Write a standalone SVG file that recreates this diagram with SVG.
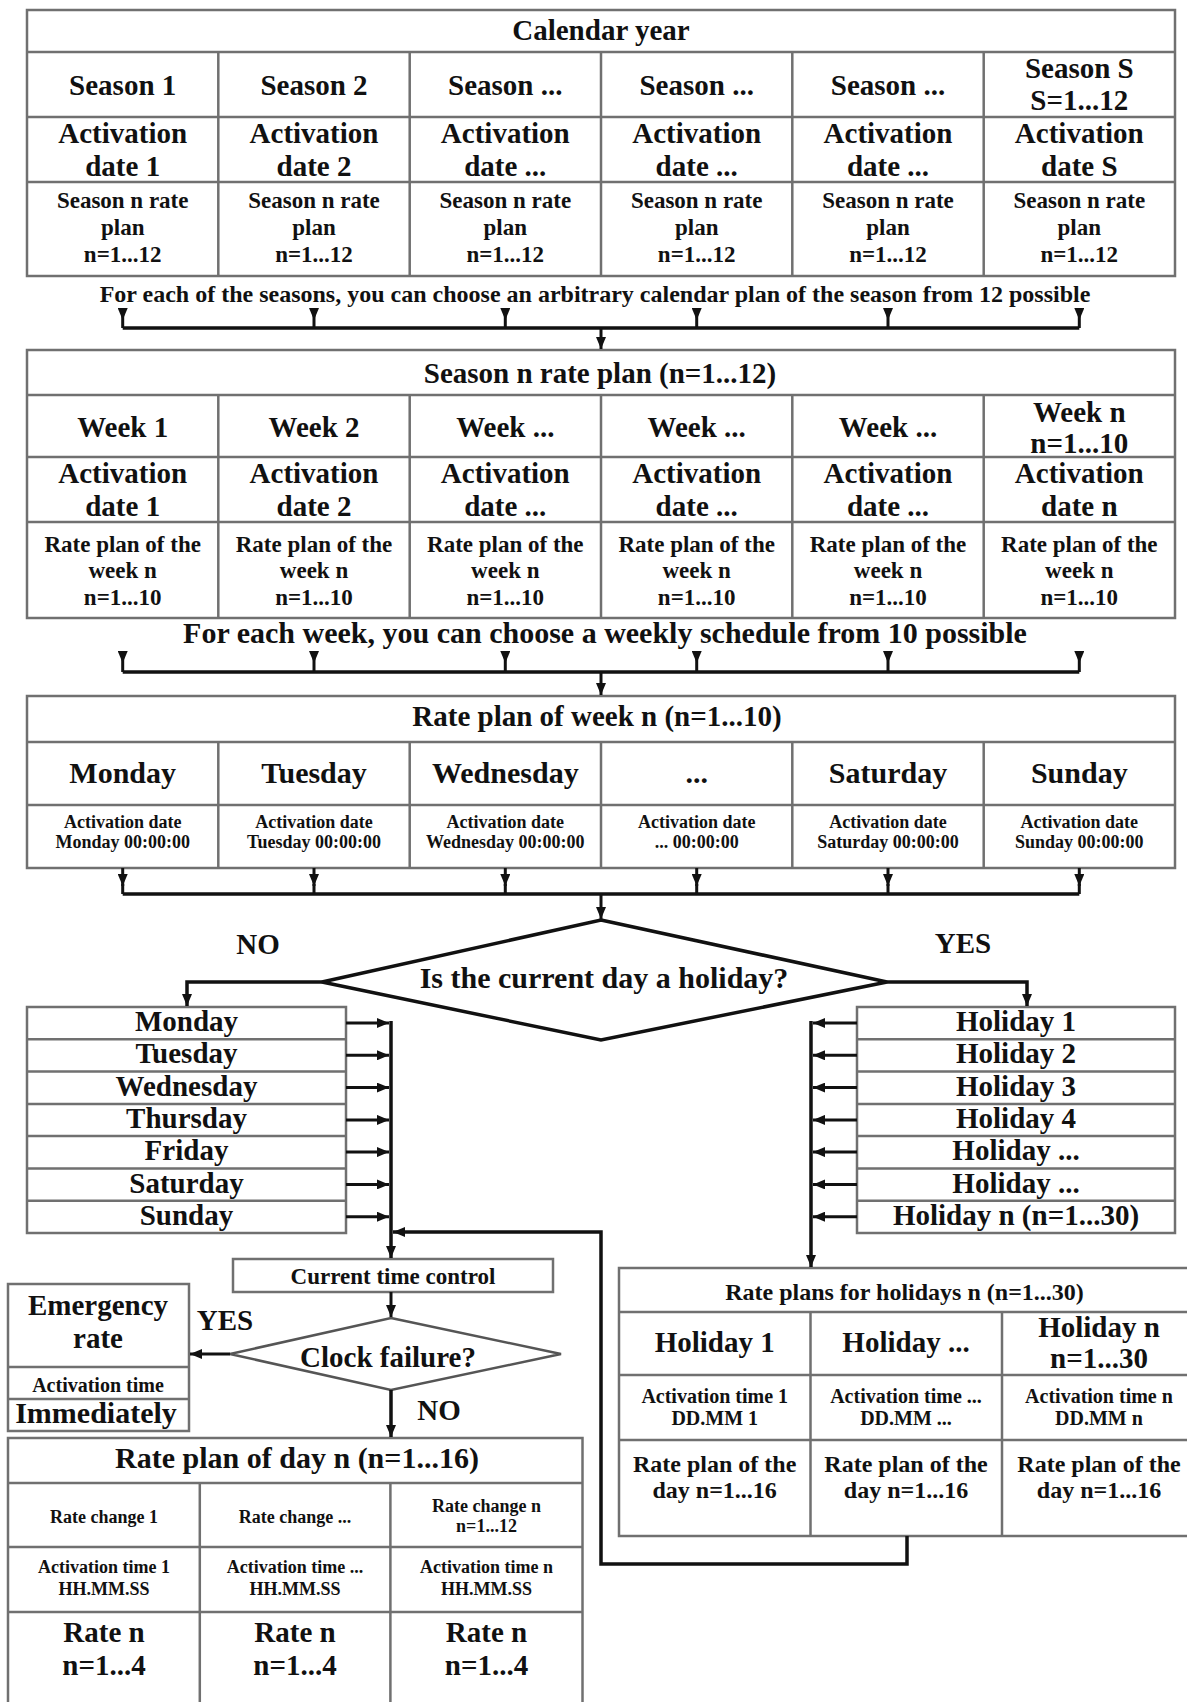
<svg xmlns="http://www.w3.org/2000/svg" width="1187" height="1702" viewBox="0 0 1187 1702">
<defs>
<style>
.box{fill:#fff;stroke:#707070;stroke-width:2.5}
.grid{fill:none;stroke:#707070;stroke-width:2.5}
text{font-family:"Liberation Serif","Times New Roman",serif;font-weight:bold;fill:#111;text-anchor:middle}
.t30{font-size:30px}.t29{font-size:29px}.t24{font-size:24px}.t23{font-size:23px}.t20{font-size:20px}.t18{font-size:18px}
.conn{fill:none;stroke:#111;stroke-width:3.5}
.thin{fill:none;stroke:#111;stroke-width:3}
.dia{fill:#fff;stroke:#111;stroke-width:3.5}
.dia2{fill:#fff;stroke:#555;stroke-width:2.5}
</style>
<marker id="ah" viewBox="0 0 12 10" refX="12" refY="5" markerWidth="12" markerHeight="10" markerUnits="userSpaceOnUse" orient="auto"><path d="M0,0 L12,5 L0,10 z" fill="#111"/></marker>
<marker id="hs" viewBox="0 0 12 10" refX="0" refY="5" markerWidth="12" markerHeight="10" markerUnits="userSpaceOnUse" orient="auto"><path d="M0,0 L12,5 L0,10 z" fill="#111"/></marker>
</defs>
<rect width="1187" height="1702" fill="#fff"/>

<g id="calendar-year">
<rect x="27" y="10" width="1148" height="266" class="box"/>
<path class="grid" d="M27 52H1175M27 117H1175M27 182H1175M218.3 52V276M409.7 52V276M601 52V276M792.3 52V276M983.7 52V276"/>
<text x="601" y="40" class="t29">Calendar year</text>
<g class="t29">
<text x="122.7" y="95">Season 1</text><text x="314" y="95">Season 2</text><text x="505.3" y="95">Season ...</text><text x="696.7" y="95">Season ...</text><text x="888" y="95">Season ...</text>
<text x="1079.3" y="78">Season S</text><text x="1079.3" y="110">S=1...12</text>
<text x="122.7" y="143">Activation</text><text x="122.7" y="176">date 1</text>
<text x="314" y="143">Activation</text><text x="314" y="176">date 2</text>
<text x="505.3" y="143">Activation</text><text x="505.3" y="176">date ...</text>
<text x="696.7" y="143">Activation</text><text x="696.7" y="176">date ...</text>
<text x="888" y="143">Activation</text><text x="888" y="176">date ...</text>
<text x="1079.3" y="143">Activation</text><text x="1079.3" y="176">date S</text>
</g>
<g class="t23">
<text x="122.7" y="208">Season n rate</text><text x="122.7" y="235">plan</text><text x="122.7" y="262">n=1...12</text>
<text x="314" y="208">Season n rate</text><text x="314" y="235">plan</text><text x="314" y="262">n=1...12</text>
<text x="505.3" y="208">Season n rate</text><text x="505.3" y="235">plan</text><text x="505.3" y="262">n=1...12</text>
<text x="696.7" y="208">Season n rate</text><text x="696.7" y="235">plan</text><text x="696.7" y="262">n=1...12</text>
<text x="888" y="208">Season n rate</text><text x="888" y="235">plan</text><text x="888" y="262">n=1...12</text>
<text x="1079.3" y="208">Season n rate</text><text x="1079.3" y="235">plan</text><text x="1079.3" y="262">n=1...12</text>
</g>
</g>
<text id="note-seasons" x="595" y="302" class="t24">For each of the seasons, you can choose an arbitrary calendar plan of the season from 12 possible</text>

<g id="season-rate-plan">
<rect x="27" y="350" width="1148" height="268" class="box"/>
<path class="grid" d="M27 395H1175M27 457H1175M27 522H1175M218.3 395V618M409.7 395V618M601 395V618M792.3 395V618M983.7 395V618"/>
<text x="600" y="383" class="t29">Season n rate plan (n=1...12)</text>
<g class="t29">
<text x="122.7" y="437">Week 1</text><text x="314" y="437">Week 2</text><text x="505.3" y="437">Week ...</text><text x="696.7" y="437">Week ...</text><text x="888" y="437">Week ...</text>
<text x="1079.3" y="422">Week n</text><text x="1079.3" y="453">n=1...10</text>
<text x="122.7" y="483">Activation</text><text x="122.7" y="516">date 1</text>
<text x="314" y="483">Activation</text><text x="314" y="516">date 2</text>
<text x="505.3" y="483">Activation</text><text x="505.3" y="516">date ...</text>
<text x="696.7" y="483">Activation</text><text x="696.7" y="516">date ...</text>
<text x="888" y="483">Activation</text><text x="888" y="516">date ...</text>
<text x="1079.3" y="483">Activation</text><text x="1079.3" y="516">date n</text>
</g>
<g class="t23">
<text x="122.7" y="552">Rate plan of the</text><text x="122.7" y="578">week n</text><text x="122.7" y="605">n=1...10</text>
<text x="314" y="552">Rate plan of the</text><text x="314" y="578">week n</text><text x="314" y="605">n=1...10</text>
<text x="505.3" y="552">Rate plan of the</text><text x="505.3" y="578">week n</text><text x="505.3" y="605">n=1...10</text>
<text x="696.7" y="552">Rate plan of the</text><text x="696.7" y="578">week n</text><text x="696.7" y="605">n=1...10</text>
<text x="888" y="552">Rate plan of the</text><text x="888" y="578">week n</text><text x="888" y="605">n=1...10</text>
<text x="1079.3" y="552">Rate plan of the</text><text x="1079.3" y="578">week n</text><text x="1079.3" y="605">n=1...10</text>
</g>
</g>
<text id="note-weeks" x="605" y="643" class="t30">For each week, you can choose a weekly schedule from 10 possible</text>

<g id="week-rate-plan">
<rect x="27" y="696" width="1148" height="172" class="box"/>
<path class="grid" d="M27 742H1175M27 805H1175M218.3 742V868M409.7 742V868M601 742V868M792.3 742V868M983.7 742V868"/>
<text x="597" y="726" class="t29">Rate plan of week n (n=1...10)</text>
<g class="t30">
<text x="122.7" y="783">Monday</text><text x="314" y="783">Tuesday</text><text x="505.3" y="783">Wednesday</text><text x="696.7" y="783">...</text><text x="888" y="783">Saturday</text><text x="1079.3" y="783">Sunday</text>
</g>
<g class="t18">
<text x="122.7" y="828">Activation date</text><text x="122.7" y="848">Monday 00:00:00</text>
<text x="314" y="828">Activation date</text><text x="314" y="848">Tuesday 00:00:00</text>
<text x="505.3" y="828">Activation date</text><text x="505.3" y="848">Wednesday 00:00:00</text>
<text x="696.7" y="828">Activation date</text><text x="696.7" y="848">... 00:00:00</text>
<text x="888" y="828">Activation date</text><text x="888" y="848">Saturday 00:00:00</text>
<text x="1079.3" y="828">Activation date</text><text x="1079.3" y="848">Sunday 00:00:00</text>
</g>
</g>

<g id="holiday-decision">
<polygon class="dia" points="601,920 887,982 601,1040 322,982"/>
<text x="604" y="988" class="t30">Is the current day a holiday?</text>
</g>
<text id="label-no-1" x="258" y="954" class="t29">NO</text>
<text id="label-yes-1" x="963" y="953" class="t29">YES</text>

<g id="weekday-list">
<rect x="27" y="1007" width="319" height="226" class="box"/>
<path class="grid" d="M27 1039.3H346M27 1071.6H346M27 1103.9H346M27 1136.1H346M27 1168.4H346M27 1200.7H346"/>
<g class="t29">
<text x="186.5" y="1031">Monday</text><text x="186.5" y="1063">Tuesday</text><text x="186.5" y="1095.5">Wednesday</text><text x="186.5" y="1128">Thursday</text><text x="186.5" y="1160">Friday</text><text x="186.5" y="1192.5">Saturday</text><text x="186.5" y="1224.5">Sunday</text>
</g>
</g>

<g id="holiday-list">
<rect x="857" y="1007" width="318" height="226" class="box"/>
<path class="grid" d="M857 1039.3H1175M857 1071.6H1175M857 1103.9H1175M857 1136.1H1175M857 1168.4H1175M857 1200.7H1175"/>
<g class="t29">
<text x="1016" y="1031">Holiday 1</text><text x="1016" y="1063">Holiday 2</text><text x="1016" y="1095.5">Holiday 3</text><text x="1016" y="1128">Holiday 4</text><text x="1016" y="1160">Holiday ...</text><text x="1016" y="1192.5">Holiday ...</text><text x="1016" y="1224.5">Holiday n (n=1...30)</text>
</g>
</g>

<g id="current-time-control">
<rect x="233" y="1259" width="320" height="33" class="box"/>
<text x="393" y="1284" class="t23">Current time control</text>
</g>

<g id="clock-decision">
<polygon class="dia2" points="391,1318 561,1354 391,1390 230,1354"/>
<text x="388" y="1367" class="t29">Clock failure?</text>
</g>
<text id="label-yes-2" x="225" y="1330" class="t29">YES</text>
<text id="label-no-2" x="439" y="1420" class="t29">NO</text>

<g id="emergency-rate">
<rect x="8" y="1284" width="181" height="147" class="box"/>
<path class="grid" d="M8 1367H189M8 1399H189"/>
<text x="98" y="1315" class="t29">Emergency</text>
<text x="98" y="1348" class="t29">rate</text>
<text x="98" y="1392" class="t20">Activation time</text>
<text x="96" y="1423" class="t30">Immediately</text>
</g>

<g id="day-rate-plan">
<rect x="8" y="1438" width="574.5" height="280" class="box"/>
<path class="grid" d="M8 1483H582.5M8 1547H582.5M8 1612H582.5M199.8 1483V1710M390.4 1483V1710"/>
<text x="297" y="1468" class="t30">Rate plan of day n (n=1...16)</text>
<g class="t18">
<text x="104" y="1523">Rate change 1</text>
<text x="295" y="1523">Rate change ...</text>
<text x="486.5" y="1512">Rate change n</text><text x="486.5" y="1532">n=1...12</text>
<text x="104" y="1573">Activation time 1</text><text x="104" y="1595">HH.MM.SS</text>
<text x="295" y="1573">Activation time ...</text><text x="295" y="1595">HH.MM.SS</text>
<text x="486.5" y="1573">Activation time n</text><text x="486.5" y="1595">HH.MM.SS</text>
</g>
<g class="t29">
<text x="104" y="1642">Rate n</text><text x="104" y="1675">n=1...4</text>
<text x="295" y="1642">Rate n</text><text x="295" y="1675">n=1...4</text>
<text x="486.5" y="1642">Rate n</text><text x="486.5" y="1675">n=1...4</text>
</g>
</g>

<g id="holiday-rate-plans">
<rect x="619" y="1268" width="575" height="268" class="box"/>
<path class="grid" d="M619 1312H1194M619 1375H1194M619 1440H1194M810.5 1312V1536M1002 1312V1536"/>
<text x="904.5" y="1300" class="t24">Rate plans for holidays n (n=1...30)</text>
<g class="t29">
<text x="714.7" y="1352">Holiday 1</text>
<text x="906" y="1352">Holiday ...</text>
<text x="1099" y="1337">Holiday n</text><text x="1099" y="1368">n=1...30</text>
</g>
<g class="t20">
<text x="714.7" y="1403">Activation time 1</text><text x="714.7" y="1425">DD.MM 1</text>
<text x="906" y="1403">Activation time ...</text><text x="906" y="1425">DD.MM ...</text>
<text x="1099" y="1403">Activation time n</text><text x="1099" y="1425">DD.MM n</text>
</g>
<g class="t24">
<text x="714.7" y="1472">Rate plan of the</text><text x="714.7" y="1498">day n=1...16</text>
<text x="906" y="1472">Rate plan of the</text><text x="906" y="1498">day n=1...16</text>
<text x="1099" y="1472">Rate plan of the</text><text x="1099" y="1498">day n=1...16</text>
</g>
</g>

<g id="connectors">
<g class="thin" marker-start="url(#hs)">
<path d="M122.7 308V328"/><path d="M314 308V328"/><path d="M505.3 308V328"/><path d="M696.7 308V328"/><path d="M888 308V328"/><path d="M1079.3 308V328"/>
</g>
<path class="conn" d="M122.7 328H1079.3"/>
<path class="thin" marker-end="url(#ah)" d="M601 328V349"/>
<g class="thin" marker-start="url(#hs)">
<path d="M122.7 651V672"/><path d="M314 651V672"/><path d="M505.3 651V672"/><path d="M696.7 651V672"/><path d="M888 651V672"/><path d="M1079.3 651V672"/>
</g>
<path class="conn" d="M122.7 672H1079.3"/>
<path class="thin" marker-end="url(#ah)" d="M601 672V695"/>
<g class="thin" marker-end="url(#ah)">
<path d="M122.7 868V886"/><path d="M314 868V886"/><path d="M505.3 868V886"/><path d="M696.7 868V886"/><path d="M888 868V886"/><path d="M1079.3 868V886"/>
</g>
<path class="thin" d="M122.7 884V894M314 884V894M505.3 884V894M696.7 884V894M888 884V894M1079.3 884V894"/>
<path class="conn" d="M122.7 894H1079.3"/>
<path class="thin" marker-end="url(#ah)" d="M601 894V919"/>
<path class="conn" marker-end="url(#ah)" d="M322 982H187V1006"/>
<path class="conn" marker-end="url(#ah)" d="M887 982H1027V1006"/>
<g class="thin" marker-end="url(#ah)">
<path d="M346 1023H389"/><path d="M346 1055.3H389"/><path d="M346 1087.6H389"/><path d="M346 1119.9H389"/><path d="M346 1152.1H389"/><path d="M346 1184.4H389"/><path d="M346 1216.7H389"/>
<path d="M857 1023H813"/><path d="M857 1055.3H813"/><path d="M857 1087.6H813"/><path d="M857 1119.9H813"/><path d="M857 1152.1H813"/><path d="M857 1184.4H813"/><path d="M857 1216.7H813"/>
</g>
<path class="conn" marker-end="url(#ah)" d="M391 1021V1258"/>
<path class="conn" marker-end="url(#ah)" d="M811 1021V1267"/>
<path class="conn" marker-end="url(#ah)" d="M907 1536V1564H601V1232H393"/>
<path class="thin" marker-end="url(#ah)" d="M391 1292V1317"/>
<path class="thin" marker-end="url(#ah)" d="M230 1354H190"/>
<path class="conn" marker-end="url(#ah)" d="M391 1390V1437"/>
</g>
</svg>
